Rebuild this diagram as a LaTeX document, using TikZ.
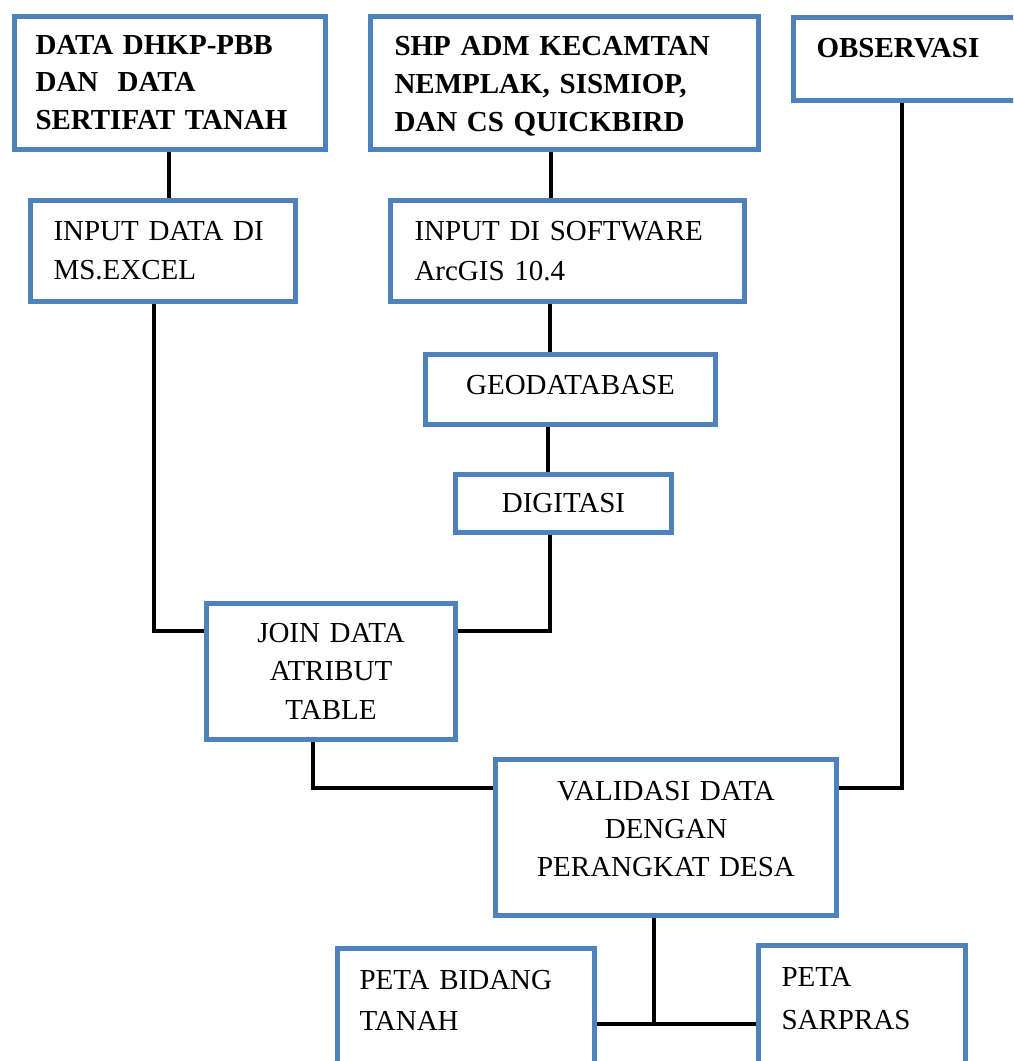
\documentclass[tikz,border=0pt]{standalone}
\usepackage{fontspec}
\setmainfont{Liberation Serif}
\usetikzlibrary{backgrounds}
\definecolor{boxblue}{HTML}{4F81BD}
\begin{document}
\begin{tikzpicture}[x=1pt,y=-1pt,
  box/.style={draw=boxblue, line width=5pt, inner ysep=0pt, anchor=north west},
  lbox/.style={box, align=left},
  cbox/.style={box, align=center, inner xsep=5pt},
  link/.style={draw=black, line width=3.5pt}]
\path[use as bounding box] (0,0) rectangle (1013,1061);
\clip (0,0) rectangle (1013,1061);

\node[lbox, inner xsep=21pt, text width=269pt, text height=37.6pt, text depth=95.4pt,
  font={\fontsize{29}{37.5}\selectfont\bfseries}] (b1) at (12,14)
  {\mbox{DATA DHKP-PBB}\\\mbox{DAN\ \ DATA}\\\mbox{SERTIFAT TANAH}};
\node[lbox, inner xsep=24pt, text width=340pt, text height=38.6pt, text depth=94.4pt,
  font={\fontsize{29}{38}\selectfont\bfseries}] (b2) at (368,14)
  {\mbox{SHP ADM KECAMTAN}\\\mbox{NEMPLAK, SISMIOP,}\\\mbox{DAN CS QUICKBIRD}};
\node[lbox, inner xsep=23pt, text width=203pt, text height=39.6pt, text depth=43.4pt,
  font={\fontsize{29}{38}\selectfont\bfseries}] (b3) at (791,15)
  {\mbox{OBSERVASI}};
\node[lbox, inner xsep=23pt, text width=219pt, text height=39.6pt, text depth=61.4pt,
  font={\fontsize{29}{39.5}\selectfont}] (b4) at (28,198)
  {\mbox{INPUT DATA DI}\\\mbox{MS.EXCEL}};
\node[lbox, inner xsep=24pt, text width=306pt, text height=39.6pt, text depth=61.4pt,
  font={\fontsize{29}{40}\selectfont}] (b5) at (388,198)
  {\mbox{INPUT DI SOFTWARE}\\\mbox{ArcGIS 10.4}};
\node[cbox, text width=280pt, text height=39.6pt, text depth=30.4pt,
  font={\fontsize{29}{40}\selectfont}] (b6) at (423,352)
  {GEODATABASE};
\node[cbox, text width=206pt, text height=37.6pt, text depth=20.4pt,
  font={\fontsize{29}{40}\selectfont}] (b7) at (453,472)
  {DIGITASI};
\node[cbox, text width=239pt, text height=38.6pt, text depth=97.4pt,
  font={\fontsize{29}{38.5}\selectfont}] (b8) at (204,601)
  {JOIN DATA\\ATRIBUT\\TABLE};
\node[cbox, text width=331pt, text height=40.6pt, text depth=115.4pt,
  font={\fontsize{29}{38}\selectfont}] (b9) at (493,757)
  {VALIDASI DATA\\DENGAN\\PERANGKAT DESA};
\node[lbox, inner xsep=22pt, text width=213pt, text height=40.6pt, text depth=113.4pt,
  font={\fontsize{29}{41}\selectfont}] (b10) at (335,946)
  {\mbox{PETA BIDANG}\\\mbox{TANAH}};
\node[lbox, inner xsep=23pt, text width=161pt, text height=40.6pt, text depth=116.4pt,
  font={\fontsize{29}{43}\selectfont}] (b11) at (756,943)
  {\mbox{PETA}\\\mbox{SARPRAS}};

\coordinate (j) at (654,1024);

\begin{pgfonlayer}{background}
\draw[link] (b1.south -| 169,0) -- (b4.north -| 169,0);
\draw[link] (b2.south -| 551,0) -- (b5.north -| 551,0);
\draw[link] (b5.south -| 550,0) -- (b6.north -| 550,0);
\draw[link] (b6.south -| 548,0) -- (b7.north -| 548,0);
\draw[link] (b4.south -| 154,0) |- (b8.west |- 0,631);
\draw[link] (b7.south -| 550,0) |- (b8.east |- 0,631);
\draw[link] (b8.south -| 313,0) |- (b9.west |- 0,788);
\draw[link] (b3.south -| 902,0) |- (b9.east |- 0,788);
\draw[link] (b9.south -| j) -- (j);
\draw[link] (b10.east |- j) -- (b11.west |- j);
\end{pgfonlayer}
\end{tikzpicture}
\end{document}
